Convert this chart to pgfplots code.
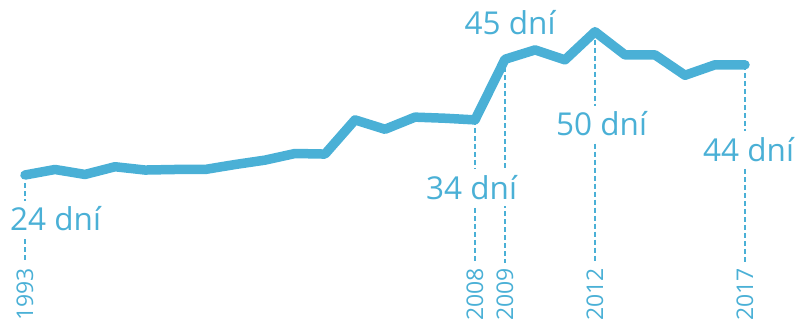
\documentclass[border=0pt]{standalone}
\usepackage{pgfplots}
\pgfplotsset{compat=1.18}
\usepackage{fontspec}
\setmainfont{Open Sans}
\definecolor{lineblue}{RGB}{74,176,214}
\tikzset{
  vallabel/.style={anchor=base west, font=\fontsize{31.5}{31.5}\selectfont, text=lineblue, fill=white, inner xsep=0pt, inner ysep=6pt},
  yrlabel/.style={rotate=90, anchor=west, inner sep=0pt, font=\fontsize{23}{23}\selectfont, text=lineblue},
  guide/.style={lineblue, line width=2.8pt, dash pattern=on 5pt off 3pt},
}
\begin{document}
\begin{tikzpicture}
\begin{axis}[
  at={(0,0)}, anchor=south west,
  width=795pt, height=324pt, scale only axis,
  xmin=1992.1667, xmax=2018.6667,
  ymin=-3.04, ymax=55.76,
  hide axis, clip=false,
]
% dashed guide lines
\addplot[guide] coordinates {(1993,22.5) (1993,8.1)};
\addplot[guide] coordinates {(2008,34) (2008,8.1)};
\addplot[guide] coordinates {(2009,45) (2009,8.1)};
\addplot[guide] coordinates {(2012,50) (2012,8.1)};
\addplot[guide] coordinates {(2017,44) (2017,8.1)};
% value labels
\node[vallabel] at (axis cs:1992.5,13.84) {24 dní};
\node[vallabel] at (axis cs:2006.367,19.59) {34 dní};
\node[vallabel] at (axis cs:2007.65,49.54) {45 dní};
\node[vallabel] at (axis cs:2010.7,31.13) {50 dní};
\node[vallabel] at (axis cs:2015.6,26.54) {44 dní};
% year labels
\node[yrlabel] at (axis cs:1993,-2.5) {1993};
\node[yrlabel] at (axis cs:2008,-2.5) {2008};
\node[yrlabel] at (axis cs:2009,-2.5) {2009};
\node[yrlabel] at (axis cs:2012,-2.5) {2012};
\node[yrlabel] at (axis cs:2017,-2.5) {2017};
% main line
\addplot[lineblue, line width=9.5pt, line join=round, line cap=round] coordinates {
(1993,24.0) (1994,25.0) (1995,24.1) (1996,25.5) (1997,24.9)
(1998,25.0) (1999,25.0) (2000,25.9) (2001,26.7) (2002,27.9)
(2003,27.8) (2004,34.0) (2005,32.3) (2006,34.5) (2007,34.3)
(2008,34.0) (2009,45.0) (2010,46.7) (2011,44.9) (2012,50.0)
(2013,45.8) (2014,45.8) (2015,42.1) (2016,44.0) (2017,44.0)
};
\end{axis}
\pgfresetboundingbox
\useasboundingbox (0,0) rectangle (795pt,324pt);
\end{tikzpicture}
\end{document}
